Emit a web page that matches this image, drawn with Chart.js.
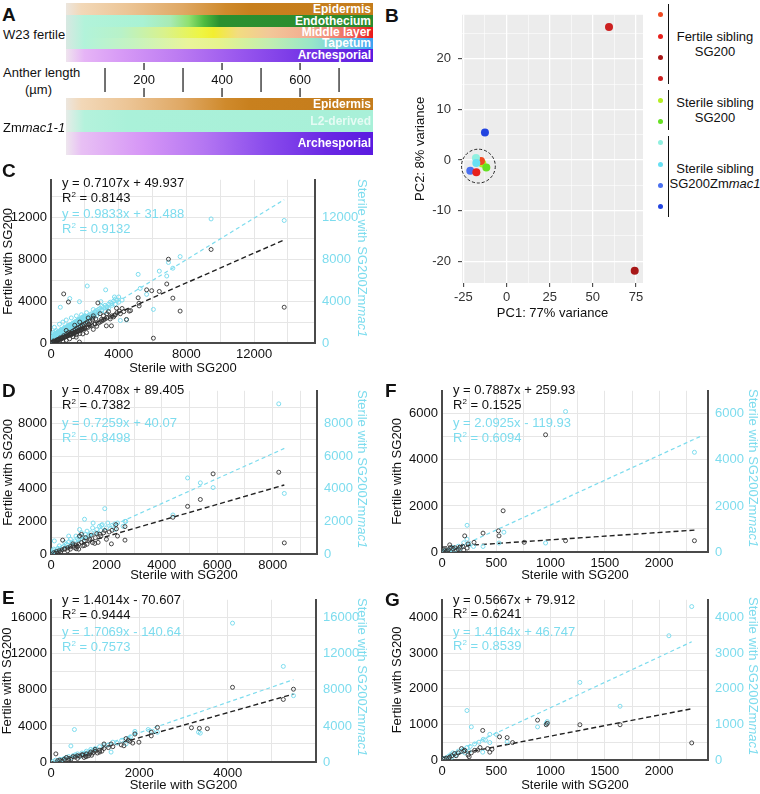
<!DOCTYPE html>
<html><head><meta charset="utf-8">
<script src="https://cdn.jsdelivr.net/npm/chart.js@4.4.1/dist/chart.umd.min.js"></script>
<style>
body{margin:0;background:#fff;width:760px;height:794px;position:relative;overflow:hidden;font-family:"Liberation Sans",Arial,Helvetica,sans-serif;color:#111}
.t{position:absolute;white-space:nowrap;font-size:13px;line-height:16px}
.lt{position:absolute;font-weight:bold;font-size:19px;line-height:19px}
.bar{position:absolute;left:66px;width:307px;color:#fff;font-weight:bold;font-size:12px;text-align:right;box-sizing:border-box;padding-right:2px;white-space:nowrap}
.eq{position:absolute;font-size:13px;line-height:16px;white-space:nowrap}
.cy{color:#7ddcee}
sup{font-size:8px;line-height:0;vertical-align:5px}
.rt{position:absolute;writing-mode:vertical-rl;text-align:center;font-size:13px;line-height:16px;width:16px;color:#7ddcee;white-space:nowrap}
.lg{position:absolute;font-size:13px;line-height:16px;text-align:center;width:100px;white-space:nowrap}
.br{position:absolute;left:668px;width:0;border-left:1.6px solid #111}
.dot{position:absolute;width:5px;height:5px;border-radius:50%}
canvas{position:absolute}
</style></head><body>

<!-- Panel A -->
<div class="lt" style="left:2px;top:5px">A</div>
<div class="t" style="left:3px;top:27px">W23 fertile</div>
<div class="bar" style="top:3px;height:12px;line-height:12px;background:linear-gradient(to right,#ece6de 0%,#f2d8b8 5%,#ecc596 20%,#dfa864 38%,#cf8a2c 52%,#c8801e 60%,#c47c1c 100%)">Epidermis</div>
<div class="bar" style="top:15px;height:12px;line-height:12px;background:linear-gradient(to right,#d8e8e2 0%,#b2f3da 6%,#a9f2d4 25%,#a8eab4 34%,#8fe070 40%,#4dbb40 45%,#2a9030 50%,#2a8a2e 100%)">Endothecium</div>
<div class="bar" style="top:27px;height:11px;line-height:11px;background:linear-gradient(to right,#d8e8e2 0%,#b2f3da 6%,#b8f2c8 18%,#d9f28c 32%,#eef542 44%,#f2ee30 48%,#f2dc80 56%,#f2c898 66%,#f3aa90 80%,#ef6a60 92%,#e81818 100%)">Middle layer</div>
<div class="bar" style="top:38px;height:11px;line-height:11px;background:linear-gradient(to right,#d8e8e2 0%,#b2f3da 6%,#c6f3c0 22%,#eaf49a 40%,#e6f38e 50%,#c2eeb0 66%,#98e6c8 80%,#6cc8e8 92%,#3aa0f2 100%)">Tapetum</div>
<div class="bar" style="top:49px;height:13px;line-height:13px;background:linear-gradient(to right,#efe4ee 0%,#e6b4f6 6%,#d79af6 18%,#bd7cf2 36%,#9a58ee 56%,#7434e6 78%,#5a1ae0 100%)">Archesporial</div>
<div class="t" style="left:3px;top:65px">Anther length</div>
<div class="t" style="left:25px;top:82px">(µm)</div>
<canvas id="cA" width="307" height="42" style="left:66px;top:58px"></canvas>
<div class="bar" style="top:98px;height:12px;line-height:12px;background:linear-gradient(to right,#ece6de 0%,#f2d8b8 5%,#ecc596 20%,#dfa864 38%,#cf8a2c 52%,#c8801e 60%,#c47c1c 100%)">Epidermis</div>
<div class="bar" style="top:110px;height:22px;line-height:22px;color:#e6fbf4;background:linear-gradient(to right,#e6ece8 0%,#b4f2dc 6%,#aaf1d9 20%,#a8f0d8 100%)">L2-derived</div>
<div class="bar" style="top:132px;height:23px;line-height:23px;background:linear-gradient(to right,#eee6ee 0%,#e8c0f4 5%,#d696f6 25%,#b476f2 45%,#8a4cec 65%,#6a28e4 85%,#5a1ae0 100%)">Archesporial</div>
<div class="t" style="left:3px;top:120px">Zm<i>mac1-1</i></div>

<!-- Panel B -->
<div class="lt" style="left:385px;top:6px">B</div>
<canvas id="cB" width="250" height="321" style="left:400px;top:0px"></canvas>
<div class="br" style="top:4px;height:80px"></div>
<div class="br" style="top:90px;height:40px"></div>
<div class="br" style="top:136px;height:81px"></div>
<div class="lg" style="left:665px;top:29px">Fertile sibling</div>
<div class="lg" style="left:665px;top:44px">SG200</div>
<div class="lg" style="left:665px;top:95px">Sterile sibling</div>
<div class="lg" style="left:665px;top:110px">SG200</div>
<div class="lg" style="left:665px;top:161px">Sterile sibling</div>
<div class="lg" style="left:665px;top:176px">SG200Zm<i>mac1</i></div>
<div id="legendDots"></div>

<!-- Panel C -->
<div class="lt" style="left:2px;top:161px">C</div>
<canvas id="cC" width="380" height="211" style="left:0;top:165px"></canvas>
<div class="eq" style="left:62px;top:175px">y = 0.7107x + 49.937</div>
<div class="eq" style="left:62px;top:190px">R<sup>2</sup> = 0.8143</div>
<div class="eq cy" style="left:62px;top:206px">y = 0.9833x + 31.488</div>
<div class="eq cy" style="left:62px;top:221px">R<sup>2</sup> = 0.9132</div>
<div class="rt" style="left:354px;top:173px;height:170px">Sterile with SG200Zm<i>mac1</i></div>

<!-- Panel D -->
<div class="lt" style="left:2px;top:381px">D</div>
<canvas id="cD" width="380" height="207" style="left:0;top:376px"></canvas>
<div class="eq" style="left:62px;top:382px">y = 0.4708x + 89.405</div>
<div class="eq" style="left:62px;top:397px">R<sup>2</sup> = 0.7382</div>
<div class="eq cy" style="left:62px;top:415px">y = 0.7259x + 40.07</div>
<div class="eq cy" style="left:62px;top:430px">R<sup>2</sup> = 0.8498</div>
<div class="rt" style="left:354px;top:384px;height:170px">Sterile with SG200Zm<i>mac1</i></div>

<!-- Panel E -->
<div class="lt" style="left:2px;top:588px">E</div>
<canvas id="cE" width="380" height="208" style="left:0;top:585px"></canvas>
<div class="eq" style="left:62px;top:592px">y = 1.4014x - 70.607</div>
<div class="eq" style="left:62px;top:607px">R<sup>2</sup> = 0.9444</div>
<div class="eq cy" style="left:62px;top:624px">y = 1.7069x - 140.64</div>
<div class="eq cy" style="left:62px;top:639px">R<sup>2</sup> = 0.7573</div>
<div class="rt" style="left:354px;top:593px;height:169px">Sterile with SG200Zm<i>mac1</i></div>

<!-- Panel F -->
<div class="lt" style="left:385px;top:381px">F</div>
<canvas id="cF" width="375" height="207" style="left:385px;top:376px"></canvas>
<div class="eq" style="left:453px;top:382px">y = 0.7887x + 259.93</div>
<div class="eq" style="left:453px;top:397px">R<sup>2</sup> = 0.1525</div>
<div class="eq cy" style="left:453px;top:415px">y = 2.0925x - 119.93</div>
<div class="eq cy" style="left:453px;top:430px">R<sup>2</sup> = 0.6094</div>
<div class="rt" style="left:745px;top:384px;height:168px">Sterile with SG200Zm<i>mac1</i></div>

<!-- Panel G -->
<div class="lt" style="left:385px;top:590px">G</div>
<canvas id="cG" width="375" height="208" style="left:385px;top:585px"></canvas>
<div class="eq" style="left:453px;top:592px">y = 0.5667x + 79.912</div>
<div class="eq" style="left:453px;top:606px">R<sup>2</sup> = 0.6241</div>
<div class="eq cy" style="left:453px;top:624px">y = 1.4164x + 46.747</div>
<div class="eq cy" style="left:453px;top:638px">R<sup>2</sup> = 0.8539</div>
<div class="rt" style="left:745px;top:593px;height:167px">Sterile with SG200Zm<i>mac1</i></div>

<script>
// ---------------- DATA ----------------
// Panel A: anther length axis (µm)
const antherTicks = [200, 400, 600];
const antherBounds = [100, 300, 500, 700];

// Panel B: PCA
const pcaPC1 = [-14.0, -14.8, -11.7, -17.7, -17.5, -21.0, -17.5, 74.3, 59.4, -12.5];
const pcaPC2 = [-0.7, -0.2, -1.5, 0.4, -0.6, -2.1, -2.4, -21.9, 26.3, 5.45];
const pcaColors = ['#b4ee22', '#f04a22', '#66e022', '#90f0e0', '#66e0f4', '#4a70f0', '#e8201c', '#a81818', '#cc2020', '#2244e0'];
const legendColors = ['#f04a22', '#e8201c', '#a81818', '#cc2020', '#b4ee22', '#66e022', '#90f0e0', '#66e0f4', '#4a70f0', '#2244e0'];
const ringCenter = [-16.3, -1.2];
const ringRadius = 9.8;

// Panel C  [sterile with SG200, value]
const cFertile = [[13780,3420],[9460,8940],[6940,8010],[6840,5640],[7200,4290],[7630,3050],[6050,460],[6400,4930],[5650,5080],[5950,5000],[5150,4320],[5210,3550],[4620,3050],[4460,2250],[750,4690],[1030,3920],[3570,1640],[3270,1640],[2980,2250],[3750,2650],[3870,3330],[4040,3050],[2770,3830],[2480,2380],[2230,1760],[1880,870],[1680,90],[1490,560],[1110,870],[200,150],[400,260],[600,400],[800,550],[1000,700],[1200,780],[1400,1000],[1600,1100],[1800,1300],[2000,1400],[2200,1500],[2400,1700],[2600,1850],[2800,1900],[3000,2100],[3200,2300],[3500,2500],[3800,2700],[1100,400],[1300,600],[1500,800],[1700,900],[900,250],[700,150],[500,100],[300,50],[2100,1000],[2500,1300],[2700,1600],[4200,3300],[4700,3100],[5200,3800],[900,1200],[1400,1700],[1700,2000],[2200,2400],[2500,2600],[2900,2800],[100,60],[150,200],[350,300],[450,350],[550,500],[650,450],[750,700],[850,600],[950,900],[1050,1000],[1150,900],[1250,1100],[1350,1200],[1450,1300],[1550,1400],[1650,1500],[1750,1600],[1850,1700],[1950,1800],[2050,1900],[2150,2000],[2300,2100],[2450,2200],[2650,2300],[3100,2600],[3300,2800],[3400,3000],[60,30],[120,80],[180,100],[240,150],[280,200],[330,220],[380,280],[420,300],[480,330],[520,380],[580,420],[620,450],[680,500],[720,520],[780,560],[820,600],[880,640],[920,660],[980,700],[1020,740],[1080,780],[1120,800],[1180,850],[1220,880],[1280,920],[1320,950],[1380,980],[1420,1020],[1480,1050],[1520,1090],[1580,1120],[1620,1160],[1680,1200],[1720,1230],[1780,1270],[1820,1300],[1880,1340],[1920,1380],[1980,1420],[2100,1500],[2300,1650],[2600,1800],[2900,2000],[3100,2200],[3300,2400],[3500,2300],[3600,2600],[3700,2500],[3900,2900],[4100,2800],[4300,3000]];
const cMac1 = [[13780,11710],[9460,11860],[7630,8260],[6940,7700],[7200,7150],[6400,6870],[6840,6400],[5150,6560],[5270,5220],[6050,3210],[5650,4650],[4460,2200],[2140,5450],[3230,5080],[3750,4400],[2950,3950],[550,3420],[1110,4250],[1680,3950],[4100,2150],[100,150],[200,300],[300,380],[400,500],[500,560],[600,700],[700,780],[800,900],[900,980],[1000,1100],[1100,1150],[1200,1300],[1300,1350],[1400,1500],[1500,1550],[1600,1700],[1700,1750],[1800,1900],[1900,1950],[2000,2100],[2100,2150],[2200,2300],[2300,2350],[2400,2500],[2500,2550],[2600,2700],[2800,2900],[3000,3100],[3300,3400],[3600,3600],[100,800],[200,1500],[300,1200],[500,1800],[700,2000],[900,2200],[1200,2400],[1500,2600],[1800,2700],[2100,2900],[2500,3200],[3000,3500],[400,900],[600,1300],[800,1500],[1000,1700],[1300,1800],[1600,2000],[1900,2200],[2300,2400],[2700,2600],[3200,3000],[3800,3700],[4200,4100],[150,500],[250,700],[350,1000],[450,1100],[550,1200],[650,1000],[750,1200],[850,1300],[950,1400],[1050,1500],[1150,1600],[1250,1700],[1350,1600],[1450,1800],[1550,1900],[1650,2100],[1750,2200],[1850,2300],[2000,2400],[2200,2600],[2400,2800],[2600,3000],[2800,3200],[50,300],[50,600],[150,1000],[250,1100],[350,600],[450,700],[3400,3300],[4000,3900],[50,100],[80,200],[120,250],[180,350],[220,400],[280,450],[320,550],[380,600],[420,650],[480,700],[520,800],[580,850],[620,900],[680,950],[720,1000],[780,1050],[820,1100],[880,1150],[920,1200],[980,1250],[1020,1300],[1080,1350],[1120,1400],[1180,1450],[1220,1500],[1280,1550],[1320,1600],[1380,1650],[1420,1700],[1480,1750],[1520,1800],[1580,1850],[1620,1900],[1680,1950],[1720,2000],[1780,2050],[1820,2100],[1880,2150],[1920,2200],[1980,2250],[2050,2300],[2150,2400],[2250,2500],[2350,2550],[2450,2650],[2550,2700],[60,400],[90,500],[130,600],[170,700],[210,800],[260,900],[310,850],[360,950],[410,1000],[460,1050],[510,1100],[560,1150],[610,1200],[660,1250],[710,1300],[760,1350],[810,1400],[860,1450],[910,1500],[960,1550],[1010,1600],[1060,1650],[1110,1700],[1160,1750],[1210,1800],[1260,1850],[1310,1900],[1360,1950],[1410,2000],[1460,2050],[1510,2100],[1560,2150],[1610,2200],[1660,2250],[1710,2300],[1760,2350],[1810,2400],[1860,2450],[1910,2500],[1960,2550],[2010,2600],[40,150],[70,50],[110,100],[160,200],[240,250],[290,300],[340,350],[390,400],[440,450],[490,500],[540,550],[590,600],[640,650],[690,700],[740,750],[790,800],[840,850],[890,900],[940,950],[990,1000],[2600,2900],[2700,3100],[2800,3000],[2900,3300],[3000,3200],[3100,3400],[3200,3600],[3300,3500],[3400,3700],[3500,3900],[3600,3800],[3700,4000],[3800,4200],[3900,4100],[4000,4400],[2500,2800],[2300,2700],[2100,2500],[1900,2300],[1700,2100]];
const cFitFertile = [[0,50],[13780,9860]];
const cFitMac1 = [[0,31],[13780,13700]];

// Panel D
const dFertile = [[8420,680],[8220,5010],[5850,4910],[5390,3340],[4930,2920],[4400,2250],[2670,1680],[2670,850],[2340,1800],[2360,1540],[2400,1100],[2180,620],[1940,1440],[1760,1210],[1700,710],[1580,650],[1390,810],[1210,520],[1030,1100],[910,320],[790,620],[420,850],[480,320],[1900,1300],[1800,1100],[1600,1000],[1400,900],[1200,800],[1100,700],[1000,600],[900,550],[800,500],[700,450],[600,380],[500,300],[400,250],[300,200],[200,150],[100,80],[600,200],[700,300],[850,400],[950,450],[1150,500],[1300,600],[1500,700],[2000,900],[1250,1000],[1450,1150],[1650,1250],[2100,1350],[2200,1450],[350,120],[250,60],[150,40],[1000,300],[1100,1200]];
const dMac1 = [[8220,9200],[8420,3710],[5850,4070],[5390,4360],[4930,4660],[4400,2390],[1940,2780],[1210,2130],[1520,1900],[1820,1750],[2670,2000],[2300,1500],[1030,1500],[640,1100],[120,800],[200,250],[400,400],[600,550],[800,700],[1000,850],[1200,1000],[1400,1150],[1600,1300],[1800,1450],[2000,1600],[2200,1750],[2400,1900],[2700,2000],[300,500],[500,700],[700,900],[900,1100],[1100,1300],[1300,1400],[1500,1600],[100,300],[50,100],[250,350],[350,300],[450,450],[550,600],[650,750],[750,650],[850,800],[950,950],[1050,1050],[1150,900],[1250,1200],[1350,1100],[1450,1300],[1650,1500],[1750,1700],[1850,1800],[2050,1900],[2300,1850],[2600,1700],[150,150],[75,200],[30,50]];
const dFitFertile = [[0,90],[8420,4230]];
const dFitMac1 = [[0,40],[8420,6470]];

// Panel E
const eFertile = [[5490,8080],[5260,6940],[4110,8290],[3360,3740],[3540,3700],[3180,3800],[2410,3840],[2270,3310],[2270,2900],[1900,3100],[1990,2200],[1790,2300],[1700,2600],[1590,1900],[1360,2000],[1200,2000],[110,900],[200,200],[300,300],[400,400],[500,600],[600,700],[700,800],[800,900],[900,1100],[1000,1200],[1100,1300],[1200,1500],[1300,1600],[1400,1700],[750,500],[800,600],[850,700],[950,1000],[1000,1400],[1100,1100],[600,400],[400,200],[250,100],[150,150],[350,500],[450,300],[550,550],[650,650],[720,780],[780,650],[880,900],[920,750],[1050,1000],[1150,1200],[1650,1800],[1750,2400],[1850,2100]];
const eMac1 = [[4110,15410],[5260,10610],[5490,7360],[3340,3310],[3380,3200],[1900,3400],[2410,3300],[530,3600],[450,1780],[1360,1100],[1700,2000],[800,1000],[100,200],[200,300],[300,400],[400,600],[500,700],[600,900],[700,1000],[800,1200],[900,1400],[1000,1500],[1200,1900],[1400,2200],[1600,2400],[1800,2800],[2200,3600],[650,600],[750,800],[350,500],[150,100],[250,250],[450,450],[550,800],[850,1000],[950,1300],[1100,1700],[1300,1900],[1500,2100],[1750,2600],[1900,3200],[2300,3400],[50,50]];
const eFitFertile = [[50,0],[5490,7540]];
const eFitMac1 = [[80,0],[5490,9140]];

// Panel F
const fFertile = [[2325,490],[1138,490],[954,5090],[757,420],[563,1790],[520,920],[525,700],[378,820],[295,420],[209,700],[231,170],[71,310],[102,140],[163,210],[25,70],[133,70],[40,30],[60,100],[80,200],[120,180],[150,120],[190,250],[240,350],[10,10],[50,50],[200,80]];
const fMac1 = [[1138,6100],[2325,4330],[954,390],[570,860],[525,390],[378,240],[231,1160],[290,240],[230,560],[20,50],[50,80],[80,100],[100,200],[150,250],[200,400],[30,30],[60,20],[120,100],[10,10],[170,150],[250,300]];
const fFitFertile = [[0,210],[2325,950]];
const fFitMac1 = [[57,0],[2380,5020]];

// Panel G
const gFertile = [[2300,480],[1640,990],[1270,990],[880,1120],[960,990],[970,1030],[600,630],[530,650],[375,830],[650,490],[440,220],[420,320],[300,270],[240,140],[250,90],[210,270],[180,320],[115,180],[90,120],[70,80],[40,50],[20,20],[150,200],[200,250],[270,200],[330,280],[460,300],[350,350],[130,120],[60,40]];
const gMac1 = [[2300,4310],[2090,3490],[1270,2180],[1640,1510],[960,1030],[970,1080],[880,930],[230,1390],[270,930],[440,720],[500,720],[600,510],[440,490],[375,220],[20,30],[40,60],[60,100],[80,150],[100,200],[120,180],[150,250],[180,250],[200,300],[230,350],[260,380],[300,450],[340,500],[380,580],[400,560],[90,80],[130,140],[210,200],[250,240]];
const gFitFertile = [[0,80],[2300,1440]];
const gFitMac1 = [[0,47],[2300,3320]];

// ---------------- CHARTS ----------------
const FONT = '"Liberation Sans", Arial, Helvetica, sans-serif';
Chart.defaults.font.family = FONT;
Chart.defaults.font.size = 13;
Chart.defaults.color = '#111';
Chart.defaults.animation = false;
Chart.defaults.events = [];
Chart.defaults.plugins.legend.display = false;
Chart.defaults.plugins.tooltip.enabled = false;
const CYAN = '#7ddcee';

function stepTicks(step) {
  return s => {
    const out = [];
    const start = Math.ceil(s.min / step - 1e-9) * step;
    for (let v = start; v < s.max - 1e-9; v += step) out.push({ value: +v.toFixed(4) });
    s.ticks = out;
  };
}
const isMult = (v, step) => Math.abs(v / step - Math.round(v / step)) < 1e-6;
const labelEvery = step => v => (isMult(v, step) ? String(v) : '');
const fixW = w => s => { s.width = w; };
const fixH = h => s => { s.height = h; };
const pts = arr => arr.map(([x, y]) => ({ x, y }));

// Panel A axis
const antherLabelPlugin = {
  id: 'antherLabels',
  afterDatasetsDraw(chart) {
    const { ctx } = chart, xs = chart.scales.x, ys = chart.scales.y;
    ctx.save();
    ctx.font = '13px ' + FONT;
    ctx.fillStyle = '#111';
    ctx.textAlign = 'center';
    ctx.textBaseline = 'middle';
    antherTicks.forEach(v => ctx.fillText(String(v), xs.getPixelForValue(v), ys.getPixelForValue(22.5)));
    ctx.restore();
  }
};
const seg = (v, a, b) => ({ data: [{ x: v, y: a }, { x: v, y: b }], showLine: true, borderColor: '#444', borderWidth: 1.5, pointRadius: 0 });
new Chart(document.getElementById('cA'), {
  type: 'scatter',
  data: { datasets: [
    ...antherBounds.map(v => seg(v, 10, 34)),
    ...antherTicks.map(v => seg(v, 5, 12)),
    ...antherTicks.map(v => seg(v, 30, 39))
  ] },
  options: {
    responsive: false, devicePixelRatio: 1, layout: { padding: 0 },
    scales: {
      x: { type: 'linear', min: 0, max: 787, display: false },
      y: { type: 'linear', min: 0, max: 42, reverse: true, display: false }
    }
  },
  plugins: [antherLabelPlugin]
});

// Panel B
const bgPlugin = {
  id: 'panelBg',
  beforeDraw(chart) {
    const { ctx, chartArea: a } = chart;
    ctx.save(); ctx.fillStyle = '#ececec'; ctx.fillRect(a.left, a.top, a.width, a.height); ctx.restore();
  }
};
const ringPlugin = {
  id: 'ring',
  afterDatasetsDraw(chart) {
    const { ctx } = chart, xs = chart.scales.x, ys = chart.scales.y;
    const cx = xs.getPixelForValue(ringCenter[0]), cy = ys.getPixelForValue(ringCenter[1]);
    const r = xs.getPixelForValue(ringCenter[0] + ringRadius) - cx;
    ctx.save(); ctx.setLineDash([3, 2]); ctx.strokeStyle = '#222'; ctx.lineWidth = 1;
    ctx.beginPath(); ctx.arc(cx, cy, r, 0, Math.PI * 2); ctx.stroke(); ctx.restore();
  }
};
function ggAxis(min, max, minor, major, fit, title, titlePad) {
  return {
    type: 'linear', bounds: 'data', min, max,
    afterBuildTicks: stepTicks(minor), afterFit: fit,
    ticks: { autoSkip: false, maxRotation: 0, padding: 3, color: '#333', font: { size: 13 }, callback: labelEvery(major) },
    grid: {
      color: '#ffffff',
      lineWidth: c => (c.tick && isMult(c.tick.value, major) ? 1.3 : 0.6),
      tickLength: 4,
      tickColor: c => (c.tick && isMult(c.tick.value, major) ? '#333' : 'rgba(0,0,0,0)'),
      tickWidth: 1
    },
    border: { display: false },
    title: { display: true, text: title, color: '#111', font: { size: 13 }, padding: titlePad }
  };
}
const xB = ggAxis(-25.8, 79.1, 12.5, 25, fixH(38), 'PC1: 77% variance', { top: 0, bottom: 0 });
const yB = ggAxis(-24.3, 28.7, 5, 10, fixW(62), 'PC2: 8% variance', { top: 13, bottom: 0 });
yB.ticks.padding = 7;
new Chart(document.getElementById('cB'), {
  type: 'scatter',
  data: { datasets: [{ data: pcaPC1.map((x, i) => ({ x, y: pcaPC2[i] })), pointRadius: 4, pointBackgroundColor: pcaColors, pointBorderWidth: 0, borderWidth: 0 }] },
  options: {
    responsive: false, devicePixelRatio: 1,
    layout: { padding: { top: 3, right: 7, left: 0, bottom: 0 } },
    scales: { x: xB, y: yB }
  },
  plugins: [bgPlugin, ringPlugin]
});
// legend dots
const ld = document.getElementById('legendDots');
legendColors.forEach((c, i) => {
  const d = document.createElement('div');
  d.className = 'dot';
  d.style.background = c;
  d.style.left = '657.5px';
  d.style.top = (12.2 + 21.33 * i) + 'px';
  ld.appendChild(d);
});

// Scatter panels
function scatterPanel(id, d, g) {
  const yAxis = (pos, extra) => Object.assign({
    type: 'linear', bounds: 'data', position: pos, min: 0, max: d.yMax,
    afterBuildTicks: stepTicks(d.yGrid),
    ticks: { autoSkip: false, padding: 4, color: '#111', callback: labelEvery(d.yLabel) },
    border: { display: true, color: '#4a4a4a', width: 2 }
  }, extra);
  new Chart(document.getElementById(id), {
    type: 'scatter',
    data: { datasets: [
      { data: pts(d.fert), yAxisID: 'y', borderColor: '#333', backgroundColor: 'rgba(0,0,0,0)', pointRadius: 2, pointBorderWidth: 0.9 },
      { data: pts(d.mac), yAxisID: 'y2', borderColor: CYAN, backgroundColor: 'rgba(0,0,0,0)', pointRadius: 2, pointBorderWidth: 1 },
      { data: pts(d.fitF), yAxisID: 'y', showLine: true, borderColor: '#222', borderWidth: 1.4, borderDash: [5, 3], pointRadius: 0 },
      { data: pts(d.fitM), yAxisID: 'y2', showLine: true, borderColor: CYAN, borderWidth: 1.2, borderDash: [4, 3], pointRadius: 0 }
    ] },
    options: {
      responsive: false, devicePixelRatio: 1,
      layout: { padding: { top: g.top, left: 0, right: 0, bottom: 0 } },
      scales: {
        x: {
          type: 'linear', bounds: 'data', min: 0, max: d.xMax,
          afterBuildTicks: stepTicks(d.xGrid), afterFit: fixH(g.bottom),
          ticks: { autoSkip: false, maxRotation: 0, padding: 4, color: '#111', callback: labelEvery(d.xLabel) },
          grid: { color: '#e6e6e6', lineWidth: 1, drawTicks: false },
          border: { display: true, color: '#4a4a4a', width: 2 },
          title: { display: true, text: 'Sterile with SG200', color: '#111', padding: { top: 0, bottom: 0 } }
        },
        y: yAxis('left', {
          afterFit: fixW(g.left),
          grid: { color: '#e6e6e6', lineWidth: 1, drawTicks: false },
          title: { display: true, text: 'Fertile with SG200', color: '#111', padding: { top: g.titlePad, bottom: 0 } }
        }),
        y2: yAxis('right', {
          afterFit: fixW(g.right),
          grid: { drawOnChartArea: false, drawTicks: false },
          ticks: { autoSkip: false, padding: 7, color: CYAN, callback: labelEvery(d.yLabel) }
        })
      }
    }
  });
}

scatterPanel('cC', { fert: cFertile, mac: cMac1, fitF: cFitFertile, fitM: cFitMac1, xMax: 15600, xGrid: 2000, xLabel: 4000, yMax: 15600, yGrid: 2000, yLabel: 4000 },
  { top: 8, bottom: 33, left: 51, right: 65, titlePad: 1 });
scatterPanel('cD', { fert: dFertile, mac: dMac1, fitF: dFitFertile, fitM: dFitMac1, xMax: 9600, xGrid: 1000, xLabel: 2000, yMax: 10000, yGrid: 1000, yLabel: 2000 },
  { top: 8, bottom: 29, left: 51, right: 63, titlePad: 1 });
scatterPanel('cE', { fert: eFertile, mac: eMac1, fitF: eFitFertile, fitM: eFitMac1, xMax: 6000, xGrid: 1000, xLabel: 2000, yMax: 18000, yGrid: 2000, yLabel: 4000 },
  { top: 8, bottom: 31, left: 51, right: 64, titlePad: 0 });
scatterPanel('cF', { fert: fFertile, mac: fMac1, fitF: fFitFertile, fitM: fFitMac1, xMax: 2450, xGrid: 250, xLabel: 500, yMax: 7000, yGrid: 1000, yLabel: 2000 },
  { top: 8, bottom: 31, left: 57, right: 52, titlePad: 5 });
scatterPanel('cG', { fert: gFertile, mac: gMac1, fitF: gFitFertile, fitM: gFitMac1, xMax: 2450, xGrid: 250, xLabel: 500, yMax: 4500, yGrid: 500, yLabel: 1000 },
  { top: 8, bottom: 33, left: 57, right: 52, titlePad: 5 });
</script>
</body></html>
